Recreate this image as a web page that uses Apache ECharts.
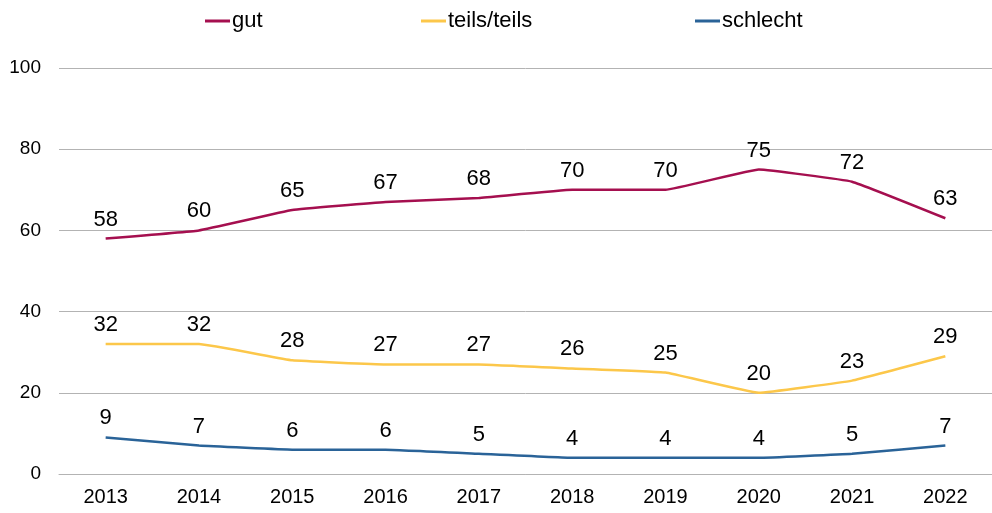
<!DOCTYPE html>
<html>
<head>
<meta charset="utf-8">
<script src="https://cdn.jsdelivr.net/npm/echarts@6/dist/echarts.min.js"></script>
<style>
  html, body { margin: 0; padding: 0; background: #fff; }
  #main { width: 992px; height: 513px; }
</style>
</head>
<body>
<div id="main"></div>
<script>
// Jahre und Werte
const years = ['2013', '2014', '2015', '2016', '2017', '2018', '2019', '2020', '2021', '2022'];
const gut = [58, 60, 65, 67, 68, 70, 70, 75, 72, 63];
const teils = [32, 32, 28, 27, 27, 26, 25, 20, 23, 29];
const schlecht = [9, 7, 6, 6, 5, 4, 4, 4, 5, 7];
const seriesNames = ['gut', 'teils/teils', 'schlecht'];

const fontFam = 'Liberation Sans, Arial, sans-serif';
const chart = echarts.init(document.getElementById('main'));

function mkSeries(name, data, color) {
    return {
        name: name,
        type: 'line',
        data: data,
        smooth: 0.08,
        showSymbol: true,
        symbol: 'circle',
        symbolSize: 0.1,
        lineStyle: { color: color, width: 2.5 },
        itemStyle: { color: color },
        label: {
            show: true,
            position: 'top',
            distance: 8,
            color: '#000',
            fontSize: 22,
            fontFamily: fontFam
        },
        emphasis: { disabled: true }
    };
}

// je ein Legendeneintrag, damit die Abstände wie im Original sind
function mkLegend(name, left) {
    return {
        top: 5,
        left: left,
        itemWidth: 25,
        itemHeight: 3,
        icon: 'rect',
        textStyle: { fontSize: 22, fontFamily: fontFam, color: '#000', padding: [0, 0, 0, -3] },
        data: [name]
    };
}

chart.setOption({
    animation: false,
    legend: [
        mkLegend(seriesNames[0], 200),
        mkLegend(seriesNames[1], 416),
        mkLegend(seriesNames[2], 690)
    ],
    grid: { left: 59, right: -4, top: 68, bottom: 39, containLabel: false },
    xAxis: {
        type: 'category',
        data: years,
        boundaryGap: true,
        axisLine: { show: true, lineStyle: { color: '#b3b3b3', width: 1 } },
        axisTick: { show: false },
        axisLabel: { color: '#000', fontSize: 20, fontFamily: fontFam, margin: 13 }
    },
    yAxis: {
        type: 'value',
        min: 0,
        max: 100,
        interval: 20,
        axisLine: { show: false },
        axisTick: { show: false },
        splitLine: { lineStyle: { color: '#b3b3b3', width: 1 } },
        axisLabel: { color: '#000', fontSize: 19, fontFamily: fontFam, margin: 18 }
    },
    series: [
        mkSeries(seriesNames[0], gut, '#a50f4f'),
        mkSeries(seriesNames[1], teils, '#fcc74a'),
        mkSeries(seriesNames[2], schlecht, '#2a6398')
    ]
});
</script>
</body>
</html>
